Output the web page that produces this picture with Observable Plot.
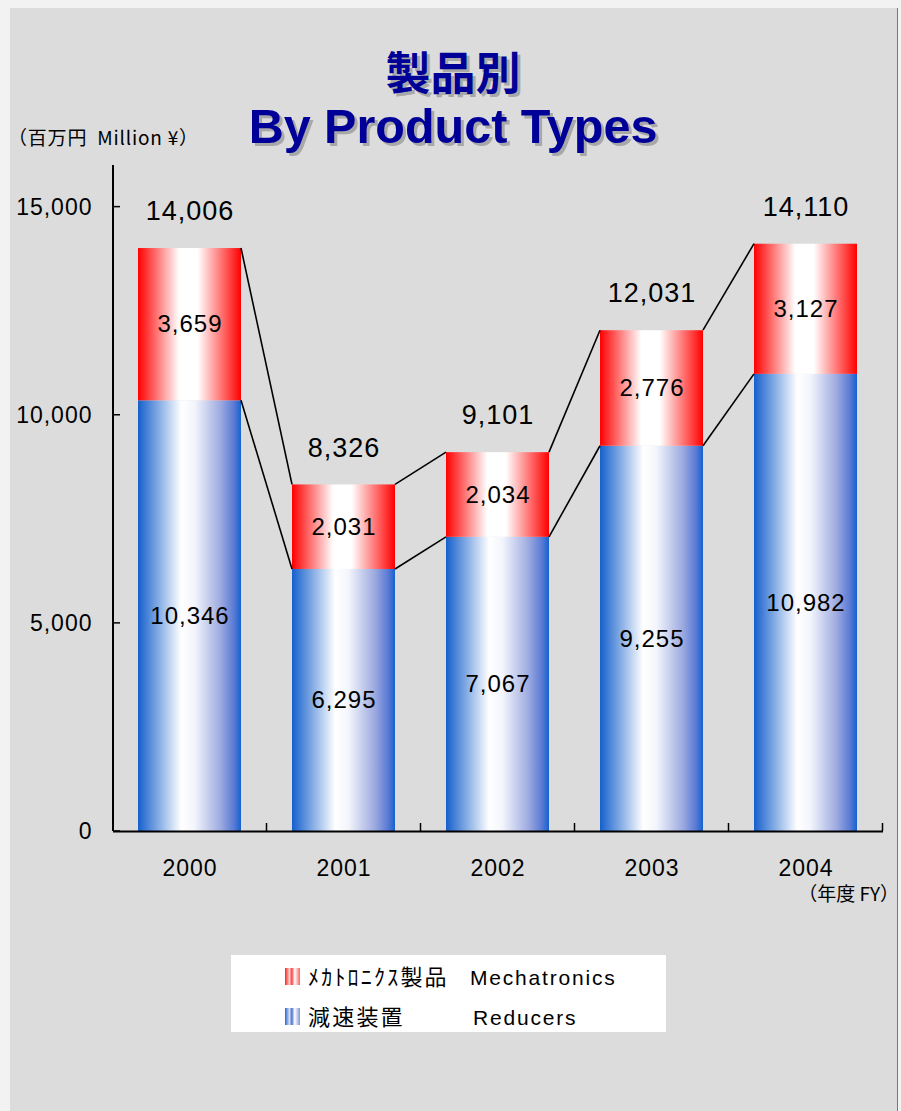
<!DOCTYPE html>
<html>
<head>
<meta charset="utf-8">
<script src="https://cdn.jsdelivr.net/npm/d3@7"></script>
<script src="https://cdn.jsdelivr.net/npm/@observablehq/plot@0.6"></script>
<style>
  html, body { margin: 0; padding: 0; background: #ececec; }
  #wrap { position: relative; width: 901px; height: 1111px; background: #f2f2f2; overflow: hidden; }
  #panel { position: absolute; left: 10px; top: 8px; width: 887px; height: 1103px; background: #dcdcdc; border-right: 1px solid #777; }
  #chart { position: absolute; left: 0; top: 0; }
  .t { position: absolute; white-space: nowrap; line-height: 1; }
  .title1 { left: 0; width: 906px; text-align: center; top: 48px; font-family: "Noto Sans CJK JP", sans-serif; font-weight: 700; font-size: 45px; color: #000099; text-shadow: 3px 3px 0 #a8a8a8; }
  .title2 { left: 0; width: 906px; text-align: center; top: 102px; font-family: "Liberation Sans", Arial, sans-serif; font-weight: 700; font-size: 48.5px; color: #000099; text-shadow: 3px 3px 0 #a8a8a8; }
  .unit { left: 8px; top: 127px; font-family: "Liberation Sans Narrow", "Noto Sans CJK JP", sans-serif; font-size: 19px; letter-spacing: 0.8px; color: #000; }
  .fy { right: 2px; top: 883px; font-family: "Liberation Sans Narrow", "Noto Sans CJK JP", sans-serif; font-size: 19px; color: #000; }
  #legend { position: absolute; left: 231px; top: 955px; width: 435px; height: 77px; background: #fff; }
  .sw { position: absolute; width: 15px; height: 17px; }
  .lt { position: absolute; white-space: nowrap; line-height: 1; color: #000; }
  .jp { font-family: "Noto Sans CJK JP", sans-serif; font-size: 22px; letter-spacing: 2.2px; }
  .en { font-family: "Liberation Sans", Arial, sans-serif; font-size: 21px; letter-spacing: 1.8px; }
</style>
</head>
<body>
<div id="wrap">
  <div id="panel"></div>
  <div id="chart"></div>
  <div class="t title1">製品別</div>
  <div class="t title2">By Product Types</div>
  <div class="t unit">（百万円&nbsp;&nbsp;Million ¥）</div>
  <div class="t fy">（年度 FY）</div>
  <div id="legend"></div>
</div>
<script>
// ---- data ----
const years = ["2000", "2001", "2002", "2003", "2004"];
const reducers = [10346, 6295, 7067, 9255, 10982];
const mechatronics = [3659, 2031, 2034, 2776, 3127];
const totals = [14006, 8326, 9101, 12031, 14110];
const seriesJP = ["減速装置", "ﾒｶﾄﾛﾆｸｽ製品"];
const seriesEN = ["Reducers", "Mechatronics"];
const yTicks = [0, 5000, 10000, 15000];

// long table built from the arrays (reducers first → bottom of stack)
const rows = [];
years.forEach((yr, i) => {
  rows.push({year: yr, series: seriesEN[0], value: reducers[i]});
  rows.push({year: yr, series: seriesEN[1], value: mechatronics[i]});
});
const totalRows = years.map((yr, i) => ({year: yr, total: totals[i]}));

const fmt = d3.format(",");

function gradientDefs() {
  const g = d3.create("svg:g");
  const defs = g.append("defs");
  const red = defs.append("linearGradient").attr("id", "gradRed").attr("x1", 0).attr("x2", 1).attr("y1", 0).attr("y2", 0);
  [[0, "#ff0000"], [0.4, "#ffffff"], [0.58, "#ffffff"], [1, "#ff0000"]].forEach(([o, c]) =>
    red.append("stop").attr("offset", o).attr("stop-color", c));
  const blue = defs.append("linearGradient").attr("id", "gradBlue").attr("x1", 0).attr("x2", 1).attr("y1", 0).attr("y2", 0);
  [[0, "#1560cc"], [0.42, "#ffffff"], [0.55, "#f3f5fc"], [0.8, "#9eabe0"], [0.93, "#5b7bd5"], [1, "#1462cf"]].forEach(([o, c]) =>
    blue.append("stop").attr("offset", o).attr("stop-color", c));
  return g.node();
}

function overlay(index, scales, values, dimensions) {
  const {x, y} = scales;
  const bw = x.bandwidth();
  const step = x.step();
  const {marginLeft, marginTop, marginBottom, height} = dimensions;
  const g = d3.create("svg:g").attr("stroke", "black").attr("fill", "none");
  for (const series of [totals, reducers]) {
    for (let i = 0; i < years.length - 1; i++) {
      g.append("line")
        .attr("x1", x(years[i]) + bw).attr("y1", y(series[i]))
        .attr("x2", x(years[i + 1])).attr("y2", y(series[i + 1]))
        .attr("stroke-width", 1.6);
    }
  }
  g.append("line").attr("x1", marginLeft).attr("x2", marginLeft)
    .attr("y1", marginTop).attr("y2", height - marginBottom).attr("stroke-width", 2);
  for (const v of yTicks) {
    g.append("line").attr("x1", marginLeft).attr("x2", marginLeft + 7)
      .attr("y1", y(v)).attr("y2", y(v)).attr("stroke-width", 1.5);
  }
  const y0 = y(0);
  for (const yr of years) {
    const xb = x(yr) + bw + (step - bw) / 2;
    g.append("line").attr("x1", xb).attr("x2", xb).attr("y1", y0).attr("y2", y0 - 8).attr("stroke-width", 1.5);
  }
  return g.node();
}

const plot = Plot.plot({
  width: 901,
  height: 900,
  marginLeft: 113,
  marginRight: 18,
  marginTop: 165,
  marginBottom: 69,
  style: {background: "transparent", fontFamily: "'Liberation Sans', Arial, sans-serif", color: "#000", letterSpacing: "1px"},
  x: {domain: years, paddingInner: 0.33, paddingOuter: 0.165, label: null},
  y: {domain: [0, 16000], label: null},
  color: {domain: seriesEN, range: ["url(#gradBlue)", "url(#gradRed)"]},
  marks: [
    gradientDefs,
    Plot.barY(rows, Plot.stackY({x: "year", y: "value", fill: "series", z: "series", order: seriesEN})),
    Plot.ruleY([0], {stroke: "black", strokeWidth: 2}),
    overlay,
    Plot.text(rows, Plot.stackY({x: "year", y: "value", z: "series", order: seriesEN, text: d => fmt(d.value), fontSize: 24, fill: "black"})),
    Plot.text(totalRows, {x: "year", y: "total", text: d => fmt(d.total), dy: -37, fontSize: 27, fill: "black"}),
    Plot.axisY({ticks: yTicks, tickFormat: fmt, tickSize: 0, tickPadding: 21, fontSize: 23, label: null}),
    Plot.axisX({tickSize: 0, tickPadding: 28, fontSize: 23, label: null})
  ]
});
document.getElementById("chart").appendChild(plot);

// legend (HTML, built from the series arrays)
const legend = document.getElementById("legend");
[1, 0].forEach((s, row) => {
  const top = 13 + row * 40;
  const sw = document.createElement("div");
  sw.className = "sw";
  sw.style.left = "54px"; sw.style.top = top + "px";
  sw.style.background = s === 1
    ? "linear-gradient(to right, #ff2020 0%, #ffd0d0 30%, #ff4040 45%, #ffffff 65%, #ff6060 100%)"
    : "linear-gradient(to right, #2a64cf 0%, #d6def4 30%, #4d74d2 45%, #ffffff 65%, #7f93da 100%)";
  legend.appendChild(sw);
  const jp = document.createElement("div");
  jp.className = "lt jp";
  jp.style.left = "77px"; jp.style.top = (top - 4) + "px";
  jp.textContent = seriesJP[s];
  legend.appendChild(jp);
  const en = document.createElement("div");
  en.className = "lt en";
  en.style.left = (s === 1 ? 239 : 242) + "px"; en.style.top = (top - 1) + "px";
  en.textContent = seriesEN[s];
  legend.appendChild(en);
});
</script>
</body>
</html>
